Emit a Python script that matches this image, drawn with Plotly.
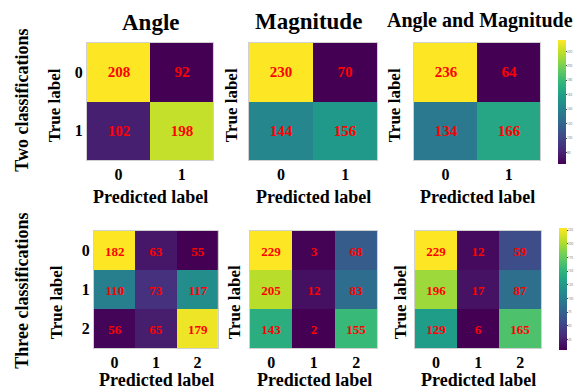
import plotly.graph_objects as go

# ---- data ----
titles = ["Angle", "Magnitude", "Angle and Magnitude"]
row_labels = ["Two classifications", "Three classifications"]
labels2 = ["0", "1"]
labels3 = ["0", "1", "2"]

two_angle = [[208, 92], [102, 198]]
two_mag = [[230, 70], [144, 156]]
two_both = [[236, 64], [134, 166]]

three_angle = [[182, 63, 55], [110, 73, 117], [56, 65, 179]]
three_mag = [[229, 3, 68], [205, 12, 83], [143, 2, 155]]
three_both = [[229, 12, 59], [196, 17, 87], [129, 6, 165]]

W, H = 584, 390
SERIF = "Liberation Serif, Times New Roman, serif"

fig = go.Figure()

def px_x(v):
    return v / W

def px_y(v):
    return 1 - v / H

# (matrix, tick labels, x0,x1,y0,y1 in px, show y ticks, colorbar)
panels = [
    (two_angle, labels2, 88, 216, 43, 160, True, None),
    (two_mag, labels2, 252, 382, 43, 160, False, None),
    (two_both, labels2, 419, 547, 43, 160, False, (555, 30, 174, 20)),
    (three_angle, labels3, 95, 221, 231, 348, True, None),
    (three_mag, labels3, 253, 382, 231, 348, False, None),
    (three_both, labels3, 420, 548, 231, 348, False, (556, 218, 360, 25)),
]

layout_axes = {}
for i, (z, labs, x0, x1, y0, y1, showy, cb) in enumerate(panels):
    k = i + 1
    xa = "x" if k == 1 else f"x{k}"
    ya = "y" if k == 1 else f"y{k}"
    n = len(labs)
    flat = [v for row in z for v in row]
    tr = dict(
        z=z,
        x=list(range(n)),
        y=list(range(n)),
        xaxis=xa,
        yaxis=ya,
        colorscale="Viridis",
        zmin=min(flat),
        zmax=max(flat),
        text=[[str(v) for v in row] for row in z],
        texttemplate="%{text}",
        textfont=dict(family=SERIF, size=15 if n == 2 else 13, color="#ff0000", weight="bold"),
        hoverinfo="skip",
        showscale=cb is not None,
    )
    if cb is not None:
        cx, cy0, cy1, dt = cb
        tr["colorbar"] = dict(
            x=px_x(cx), xanchor="left", xref="paper",
            y=px_y((cy0 + cy1) / 2), yanchor="middle", yref="paper",
            len=(cy1 - cy0) / H, lenmode="fraction",
            thickness=8, outlinewidth=0,
            tickfont=dict(size=3, color="#666666"),
            dtick=dt, ticks="outside", ticklen=1,
        )
    fig.add_trace(go.Heatmap(**tr))
    xname = "xaxis" if k == 1 else f"xaxis{k}"
    yname = "yaxis" if k == 1 else f"yaxis{k}"
    layout_axes[xname] = dict(
        domain=[px_x(x0), px_x(x1)], anchor=ya,
        range=[-0.5, n - 0.5], tickvals=list(range(n)), ticktext=labs,
        showgrid=False, zeroline=False, ticks="",
        tickfont=dict(family=SERIF, size=16, color="black", weight="bold"),
        showline=True, linecolor="#d0d0d0", mirror=True, linewidth=1,
    )
    layout_axes[yname] = dict(
        domain=[px_y(y1), px_y(y0)], anchor=xa,
        range=[n - 0.5, -0.5], tickvals=list(range(n)), ticktext=labs,
        showticklabels=showy,
        showgrid=False, zeroline=False, ticks="",
        tickfont=dict(family=SERIF, size=16, color="black", weight="bold"),
        showline=True, linecolor="#d0d0d0", mirror=True, linewidth=1,
    )

fig.update_layout(**layout_axes)

ann = []

def add_text(text, x, y, size, angle=0):
    ann.append(dict(
        text=f"<b>{text}</b>", x=px_x(x), y=px_y(y), xref="paper", yref="paper",
        showarrow=False, xanchor="center", yanchor="middle", textangle=angle,
        font=dict(family=SERIF, size=size, color="black"),
    ))

# column titles
add_text(titles[0], 153, 22, 23)
add_text(titles[1], 312, 21, 23)
add_text(titles[2], 486, 20, 20)

# row labels
add_text(row_labels[0], 22, 100, 18, -90)
add_text(row_labels[1], 22, 291, 18, -90)

# axis titles
for (cx, ty) in [(152, 197), (317, 197), (483, 197)]:
    add_text("Predicted label", cx, ty, 18)
for (cx, ty) in [(158, 380), (318, 380), (484, 380)]:
    add_text("Predicted label", cx, ty, 18)
for (tx, ty) in [(56, 105), (235, 105), (400, 105)]:
    add_text("True label", tx, ty, 17, -90)
for (tx, ty) in [(57, 302), (237, 302), (405, 302)]:
    add_text("True label", tx, ty, 17, -90)

fig.update_layout(
    annotations=ann,
    width=W, height=H,
    margin=dict(l=0, r=0, t=0, b=0),
    paper_bgcolor="white", plot_bgcolor="white",
    showlegend=False,
)

fig.write_html(
    "out.html",
    config={"displayModeBar": False},
    post_script="document.body.style.margin='0';document.body.style.overflow='hidden';",
)
